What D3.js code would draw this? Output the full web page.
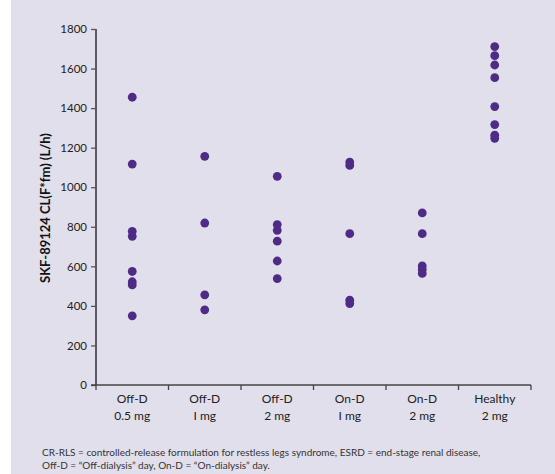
<!DOCTYPE html>
<html>
<head>
<meta charset="utf-8">
<script src="https://cdn.jsdelivr.net/npm/d3@7"></script>
<style>
  html, body { margin: 0; padding: 0; background: #ffffff; }
  svg { display: block; }
  text { font-family: Lato, "Open Sans", sans-serif; }
</style>
</head>
<body>
<svg id="chart" width="555" height="474"></svg>
<script>
const categories = ["Off-D|0.5 mg", "Off-D|I mg", "Off-D|2 mg", "On-D|I mg", "On-D|2 mg", "Healthy|2 mg"];
const offD05 = [1455, 1117, 777, 752, 574, 522, 506, 350];
const offD1 = [1156, 819, 456, 380];
const offD2 = [1055, 811, 782, 727, 627, 538];
const onD1 = [1127, 1110, 765, 429, 412];
const onD2 = [870, 765, 602, 584, 564];
const healthy2 = [1711, 1665, 1618, 1554, 1408, 1317, 1263, 1247];
const yTicks = [0, 200, 400, 600, 800, 1000, 1200, 1400, 1600, 1800];
const yLabel = "SKF-89124 CL(F*fm) (L/h)";
const footnote = [
  "CR-RLS = controlled-release formulation for restless legs syndrome, ESRD = end-stage renal disease,",
  "Off-D = \u201cOff-dialysis\u201d day, On-D = \u201cOn-dialysis\u201d day."
];

const seriesList = [offD05, offD1, offD2, onD1, onD2, healthy2];
const points = [];
seriesList.forEach((vals, i) => vals.forEach(v => points.push({cat: categories[i], v})));

const svg = d3.select("#chart");
svg.append("rect").attr("x", 11).attr("y", 0).attr("width", 544).attr("height", 474).attr("fill", "#e1dfec");

const x = d3.scaleBand().domain(categories).range([96, 531]).padding(0);
const y = d3.scaleLinear().domain([0, 1800]).range([385, 29]);

// Y axis
const yAxis = svg.append("g").attr("transform", "translate(96,0)")
  .call(d3.axisLeft(y).tickValues(yTicks).tickSize(5).tickPadding(4).tickFormat(d3.format("d")));
yAxis.select(".domain").attr("stroke", "#111").attr("stroke-width", 1.3).attr("d", "M0,29V385");
yAxis.selectAll(".tick line").attr("stroke", "#555").attr("stroke-width", 1.3);
yAxis.selectAll(".tick text").attr("fill", "#222").style("font-size", "11.5px");

// X axis
const xAxis = svg.append("g").attr("transform", "translate(0,385)");
xAxis.append("line").attr("x1", 91).attr("x2", 531).attr("y1", 0).attr("y2", 0)
  .attr("stroke", "#444").attr("stroke-width", 1.5);
const bounds = categories.map(c => x(c)).concat([x.range()[1]]);
xAxis.selectAll("line.tk").data(bounds).enter().append("line").attr("class", "tk")
  .attr("x1", d => d).attr("x2", d => d).attr("y1", 0).attr("y2", 5)
  .attr("stroke", "#444").attr("stroke-width", 1.3);
const xl = xAxis.selectAll("text.cl").data(categories).enter().append("text").attr("class", "cl")
  .attr("x", d => x(d) + x.bandwidth() / 2).attr("text-anchor", "middle")
  .attr("fill", "#222").style("font-size", "12px");
xl.append("tspan").attr("x", d => x(d) + x.bandwidth() / 2).attr("y", 18).text(d => d.split("|")[0]);
xl.append("tspan").attr("x", d => x(d) + x.bandwidth() / 2).attr("y", 35).text(d => d.split("|")[1]);

// Y label
svg.append("text").attr("transform", "translate(50,208) rotate(-90)").attr("text-anchor", "middle")
  .attr("fill", "#111").style("font-size", "13px").style("font-weight", "bold").text(yLabel);

// Points
svg.append("g").selectAll("circle").data(points).enter().append("circle")
  .attr("cx", d => x(d.cat) + x.bandwidth() / 2).attr("cy", d => y(d.v)).attr("r", 4.4)
  .attr("fill", "#4e2c86");

// Footnote
svg.append("g").selectAll("text").data(footnote).enter().append("text")
  .attr("x", 42).attr("y", (d, i) => 456 + i * 13).attr("fill", "#333")
  .style("font-size", "10px").text(d => d);
</script>
</body>
</html>
